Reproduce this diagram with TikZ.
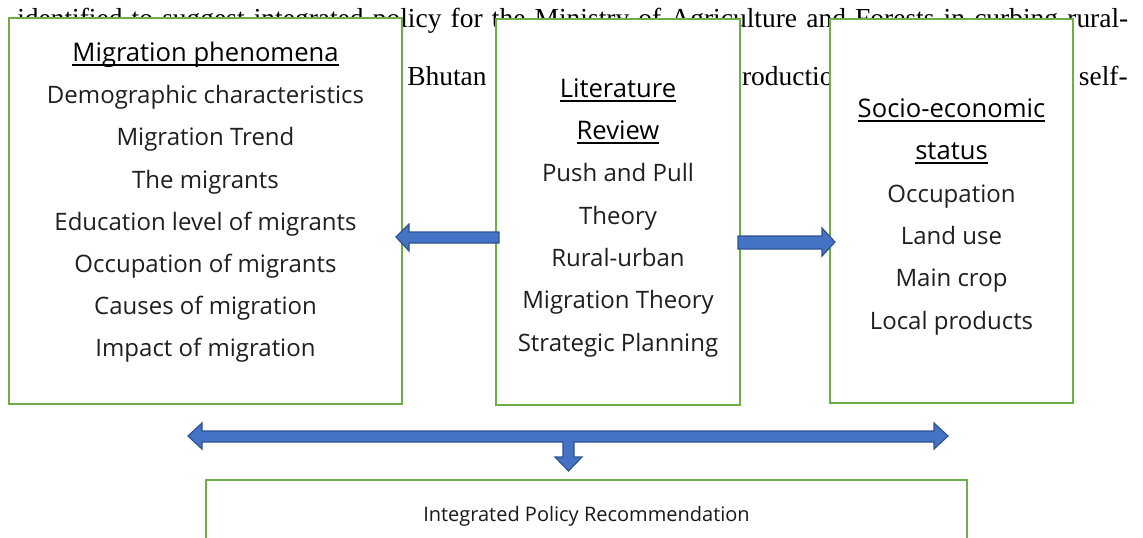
\documentclass[tikz,border=0pt]{standalone}
\usepackage{fontspec}
\setmainfont{Liberation Serif}
\newfontfamily\boxfont{Open Sans}
\definecolor{boxgreen}{HTML}{70AD47}
\definecolor{arrowfill}{HTML}{4472C4}
\definecolor{arrowline}{HTML}{2F528F}
\newcommand\myul[1]{\setbox0\hbox{#1}\rlap{\rule[-3.6pt]{\wd0}{1.4pt}}\box0}
\tikzset{
  framebox/.style={draw=boxgreen, line width=2pt, fill=white, inner sep=0pt, rectangle},
  boxtext/.style={font=\boxfont\fontsize{18}{21}\selectfont, anchor=base, inner sep=0pt, text=black!88},
  headtext/.style={font=\boxfont\fontsize{19.2}{22}\selectfont, anchor=base, inner sep=0pt, text=black},
  policytext/.style={font=\boxfont\fontsize{15}{18}\selectfont, anchor=base, inner sep=0pt, text=black!90},
  bgtext/.style={font=\fontsize{20.6}{24}\selectfont, inner sep=0pt},
  blockarrow/.style={fill=arrowfill, draw=arrowline, line width=0.9pt, line join=miter}
}
\begin{document}
\begin{tikzpicture}[x=0.75pt,y=-0.75pt]
\useasboundingbox (0,0) rectangle (1143,537);
\clip (0,0) rectangle (1143,537);
% background document text
\node[bgtext, anchor=base west] (bg1) at (17,27) {\makebox[833.25pt][s]{identified to suggest integrated policy for the Ministry of Agriculture and Forests in curbing rural-}};
\node[bgtext, anchor=base west] (bg2) at (407,85) {Bhutan};
\node[bgtext, anchor=base west] (bg3) at (728,85) {production};
\node[bgtext, anchor=base east] (bg4) at (1128,85) {self-};
% boxes
\node[framebox, minimum width=393*0.75pt, minimum height=386*0.75pt] (left) at (205.5,211) {};
\node[framebox, minimum width=244*0.75pt, minimum height=386*0.75pt] (mid) at (618,212) {};
\node[framebox, minimum width=243*0.75pt, minimum height=384*0.75pt] (right) at (951.5,211) {};
\node[framebox, minimum width=761*0.75pt, minimum height=100*0.75pt] (bottom) at (586.5,530) {};
% left box text
\node[headtext] (l0) at (205.5,61) {\myul{Migration phenomena}};
\node[boxtext] (l1) at (205.5,103) {Demographic characteristics};
\node[boxtext] (l2) at (205.5,145) {Migration Trend};
\node[boxtext] (l3) at (205.5,188) {The migrants};
\node[boxtext] (l4) at (205.5,230) {Education level of migrants};
\node[boxtext] (l5) at (205.5,272) {Occupation of migrants};
\node[boxtext] (l6) at (205.5,314) {Causes of migration};
\node[boxtext] (l7) at (205.5,356) {Impact of migration};
% middle box text
\node[headtext] (m0) at (618,97) {\myul{Literature}};
\node[headtext] (m1) at (618,139) {\myul{Review}};
\node[boxtext] (m2) at (618,181) {Push and Pull};
\node[boxtext] (m3) at (618,224) {Theory};
\node[boxtext] (m4) at (618,266) {Rural-urban};
\node[boxtext] (m5) at (618,308) {Migration Theory};
\node[boxtext] (m6) at (618,351) {Strategic Planning};
% right box text
\node[headtext] (r0) at (951.5,117) {\myul{Socio-economic}};
\node[headtext] (r1) at (951.5,159) {\myul{status}};
\node[boxtext] (r2) at (951.5,202) {Occupation};
\node[boxtext] (r3) at (951.5,244) {Land use};
\node[boxtext] (r4) at (951.5,286) {Main crop};
\node[boxtext] (r5) at (951.5,329) {Local products};
% bottom text
\node[policytext] (p0) at (586.5,521) {Integrated Policy Recommendation};
% arrows: middle box -> left box, middle box -> right box
\draw[blockarrow] (396,237) -- (409,224) -- (409,232) -- (499,232) -- (499,243) -- (409,243) -- (409,251) -- cycle;
\draw[blockarrow] (835,242) -- (822,228) -- (822,236) -- (738,236) -- (738,249) -- (822,249) -- (822,256) -- cycle;
% double arrow with downward branch to bottom box
\draw[blockarrow] (188,436) -- (202,423) -- (202,431) -- (934,431) -- (934,423) -- (948,436) -- (934,449) -- (934,442)
  -- (574,442) -- (574,457) -- (582,457) -- (568.5,471) -- (555,457) -- (563,457) -- (563,442)
  -- (202,442) -- (202,449) -- cycle;
\end{tikzpicture}
\end{document}
